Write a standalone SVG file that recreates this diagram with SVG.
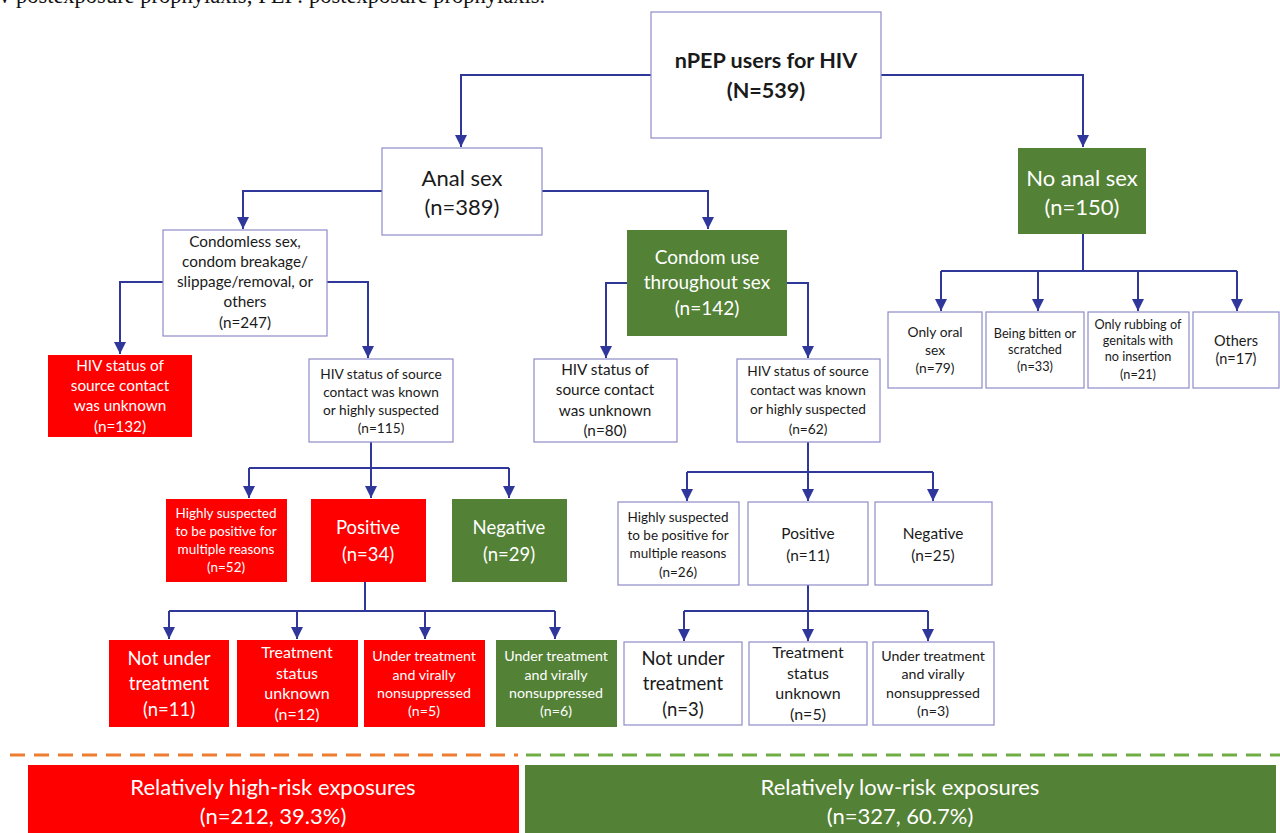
<svg xmlns="http://www.w3.org/2000/svg" width="1280" height="833" viewBox="0 0 1280 833">
<defs>
<marker id="arr" markerUnits="userSpaceOnUse" markerWidth="12" markerHeight="12" viewBox="0 0 12 12" refX="12" refY="6" orient="auto">
<path d="M0,0 L12,6 L0,12 Z" fill="#30379B"/>
</marker>
<style>
text{font-family:Lato,"Open Sans","Liberation Sans",sans-serif;text-anchor:middle}
.w{fill:#fff;stroke:#8E8CC8;stroke-width:1.2}
.r{fill:#FF0000}
.g{fill:#538135}
.tw{fill:#fff}
.tb{fill:#1a1a1a}
.c path{fill:none;stroke:#30379B;stroke-width:2}
.c path.a{marker-end:url(#arr)}
</style>
</defs>
<rect width="1280" height="833" fill="#fff"/>
<text x="-1" y="3" style="font-family:'Liberation Serif',serif;text-anchor:start;font-size:22.5px" fill="#111">v postexposure prophylaxis; PEP: postexposure prophylaxis.</text>

<g class="c" id="connectors">
<path class="a" d="M651,75 H461 V147"/>
<path class="a" d="M881,75 H1083 V147"/>
<path class="a" d="M382,191 H243 V229"/>
<path class="a" d="M542,191 H708 V229"/>
<path d="M1083,234 V271"/>
<path d="M941,271 H1237"/>
<path class="a" d="M941,271 V311"/>
<path class="a" d="M1038,271 V311"/>
<path class="a" d="M1138,271 V311"/>
<path class="a" d="M1237,271 V311"/>
<path class="a" d="M163,282 H120 V354"/>
<path class="a" d="M327,282 H368 V358"/>
<path class="a" d="M627,283 H606 V358"/>
<path class="a" d="M787,283 H808 V358"/>
<path d="M371,442 V468"/>
<path d="M249,468 H509"/>
<path class="a" d="M249,468 V498"/>
<path class="a" d="M371,468 V498"/>
<path class="a" d="M509,468 V498"/>
<path d="M365,582 V611"/>
<path d="M169,611 H555"/>
<path class="a" d="M169,611 V639"/>
<path class="a" d="M297,611 V639"/>
<path class="a" d="M425,611 V639"/>
<path class="a" d="M555,611 V639"/>
<path d="M808,442 V472"/>
<path d="M687,472 H933"/>
<path class="a" d="M687,472 V501"/>
<path class="a" d="M808,472 V501"/>
<path class="a" d="M933,472 V501"/>
<path d="M808,585 V611"/>
<path d="M684,611 H928"/>
<path class="a" d="M684,611 V641"/>
<path class="a" d="M808,611 V641"/>
<path class="a" d="M928,611 V641"/>
</g>

<g id="root">
<rect class="w" x="651" y="12" width="230" height="126"/>
<text class="tb" x="766" y="68" font-size="21.6" font-weight="bold">nPEP users for HIV</text>
<text class="tb" x="766" y="98" font-size="21.6" font-weight="bold">(N=539)</text>
</g>

<g id="anal">
<rect class="w" x="382" y="148" width="160" height="87"/>
<text class="tb" x="462" y="186" font-size="22">Anal sex</text>
<text class="tb" x="462" y="215" font-size="22">(n=389)</text>
</g>

<g id="noanal">
<rect class="g" x="1018" y="148" width="128" height="86"/>
<text class="tw" x="1082" y="186" font-size="22">No anal sex</text>
<text class="tw" x="1082" y="215" font-size="22">(n=150)</text>
</g>

<g id="oral">
<rect class="w" x="888" y="312" width="94" height="76"/>
<text class="tb" x="935" y="337" font-size="13.8">Only oral</text>
<text class="tb" x="935" y="355" font-size="13.8">sex</text>
<text class="tb" x="935" y="373" font-size="13.8">(n=79)</text>
</g>
<g id="bitten">
<rect class="w" x="986" y="312" width="98" height="76"/>
<text class="tb" x="1035" y="338" font-size="12.7">Being bitten or</text>
<text class="tb" x="1035" y="354" font-size="12.7">scratched</text>
<text class="tb" x="1035" y="371" font-size="12.7">(n=33)</text>
</g>
<g id="rubbing">
<rect class="w" x="1088" y="312" width="101" height="76"/>
<text class="tb" x="1138" y="329" font-size="12.7">Only rubbing of</text>
<text class="tb" x="1138" y="345" font-size="12.7">genitals with</text>
<text class="tb" x="1138" y="361" font-size="12.7">no insertion</text>
<text class="tb" x="1138" y="379" font-size="12.7">(n=21)</text>
</g>
<g id="others">
<rect class="w" x="1193" y="312" width="86" height="76"/>
<text class="tb" x="1236" y="346" font-size="14.5">Others</text>
<text class="tb" x="1236" y="364" font-size="14.5">(n=17)</text>
</g>

<g id="condomless">
<rect class="w" x="163" y="230" width="164" height="106"/>
<text class="tb" x="245" y="247" font-size="15.3">Condomless sex,</text>
<text class="tb" x="245" y="267" font-size="15.3">condom breakage/</text>
<text class="tb" x="245" y="287" font-size="15.3">slippage/removal, or</text>
<text class="tb" x="245" y="307" font-size="15.3">others</text>
<text class="tb" x="245" y="328" font-size="15.3">(n=247)</text>
</g>

<g id="unknown1">
<rect class="r" x="48" y="355" width="144" height="82"/>
<text class="tw" x="120" y="371" font-size="15.3">HIV status of</text>
<text class="tw" x="120" y="391" font-size="15.3">source contact</text>
<text class="tw" x="120" y="411" font-size="15.3">was unknown</text>
<text class="tw" x="120" y="432" font-size="15.3">(n=132)</text>
</g>

<g id="known1">
<rect class="w" x="309" y="359" width="144" height="83"/>
<text class="tb" x="381" y="379" font-size="13.7">HIV status of source</text>
<text class="tb" x="381" y="397" font-size="13.7">contact was known</text>
<text class="tb" x="381" y="415" font-size="13.7">or highly suspected</text>
<text class="tb" x="381" y="433" font-size="13.7">(n=115)</text>
</g>

<g id="condomuse">
<rect class="g" x="627" y="230" width="160" height="106"/>
<text class="tw" x="707" y="264" font-size="19">Condom use</text>
<text class="tw" x="707" y="289" font-size="19">throughout sex</text>
<text class="tw" x="707" y="315" font-size="19">(n=142)</text>
</g>

<g id="unknown2">
<rect class="w" x="534" y="359" width="143" height="83"/>
<text class="tb" x="605" y="375" font-size="15.3">HIV status of</text>
<text class="tb" x="605" y="395" font-size="15.3">source contact</text>
<text class="tb" x="605" y="416" font-size="15.3">was unknown</text>
<text class="tb" x="605" y="436" font-size="15.3">(n=80)</text>
</g>

<g id="known2">
<rect class="w" x="737" y="359" width="143" height="83"/>
<text class="tb" x="808" y="376" font-size="13.7">HIV status of source</text>
<text class="tb" x="808" y="395" font-size="13.7">contact was known</text>
<text class="tb" x="808" y="414" font-size="13.7">or highly suspected</text>
<text class="tb" x="808" y="434" font-size="13.7">(n=62)</text>
</g>

<g id="suspected1">
<rect class="r" x="166" y="499" width="121" height="83"/>
<text class="tw" x="226" y="518" font-size="13.5">Highly suspected</text>
<text class="tw" x="226" y="536" font-size="13.5">to be positive for</text>
<text class="tw" x="226" y="554" font-size="13.5">multiple reasons</text>
<text class="tw" x="226" y="572" font-size="13.5">(n=52)</text>
</g>
<g id="positive1">
<rect class="r" x="311" y="499" width="115" height="83"/>
<text class="tw" x="368" y="534" font-size="18.5">Positive</text>
<text class="tw" x="368" y="561" font-size="18.5">(n=34)</text>
</g>
<g id="negative1">
<rect class="g" x="452" y="499" width="115" height="83"/>
<text class="tw" x="509" y="534" font-size="18.5">Negative</text>
<text class="tw" x="509" y="561" font-size="18.5">(n=29)</text>
</g>

<g id="suspected2">
<rect class="w" x="618" y="502" width="121" height="83"/>
<text class="tb" x="678" y="522" font-size="13.5">Highly suspected</text>
<text class="tb" x="678" y="540" font-size="13.5">to be positive for</text>
<text class="tb" x="678" y="558" font-size="13.5">multiple reasons</text>
<text class="tb" x="678" y="577" font-size="13.5">(n=26)</text>
</g>
<g id="positive2">
<rect class="w" x="748" y="502" width="120" height="83"/>
<text class="tb" x="808" y="539" font-size="15.4">Positive</text>
<text class="tb" x="808" y="561" font-size="15.4">(n=11)</text>
</g>
<g id="negative2">
<rect class="w" x="875" y="502" width="117" height="83"/>
<text class="tb" x="933" y="539" font-size="15.4">Negative</text>
<text class="tb" x="933" y="561" font-size="15.4">(n=25)</text>
</g>

<g id="nottreat1">
<rect class="r" x="109" y="640" width="120" height="87"/>
<text class="tw" x="169" y="665" font-size="18.5">Not under</text>
<text class="tw" x="169" y="690" font-size="18.5">treatment</text>
<text class="tw" x="169" y="716" font-size="18.5">(n=11)</text>
</g>
<g id="statusunk1">
<rect class="r" x="237" y="640" width="121" height="87"/>
<text class="tw" x="297" y="658" font-size="16">Treatment</text>
<text class="tw" x="297" y="679" font-size="16">status</text>
<text class="tw" x="297" y="699" font-size="16">unknown</text>
<text class="tw" x="297" y="720" font-size="16">(n=12)</text>
</g>
<g id="nonsupp1">
<rect class="r" x="364" y="640" width="121" height="87"/>
<text class="tw" x="424" y="661" font-size="14.2">Under treatment</text>
<text class="tw" x="424" y="680" font-size="14.2">and virally</text>
<text class="tw" x="424" y="698" font-size="14.2">nonsuppressed</text>
<text class="tw" x="424" y="716" font-size="14.2">(n=5)</text>
</g>
<g id="nonsupp1g">
<rect class="g" x="496" y="640" width="121" height="87"/>
<text class="tw" x="556" y="661" font-size="14.2">Under treatment</text>
<text class="tw" x="556" y="680" font-size="14.2">and virally</text>
<text class="tw" x="556" y="698" font-size="14.2">nonsuppressed</text>
<text class="tw" x="556" y="716" font-size="14.2">(n=6)</text>
</g>

<g id="nottreat2">
<rect class="w" x="624" y="642" width="118" height="83"/>
<text class="tb" x="683" y="665" font-size="18.5">Not under</text>
<text class="tb" x="683" y="690" font-size="18.5">treatment</text>
<text class="tb" x="683" y="716" font-size="18.5">(n=3)</text>
</g>
<g id="statusunk2">
<rect class="w" x="749" y="642" width="118" height="83"/>
<text class="tb" x="808" y="658" font-size="16">Treatment</text>
<text class="tb" x="808" y="679" font-size="16">status</text>
<text class="tb" x="808" y="699" font-size="16">unknown</text>
<text class="tb" x="808" y="720" font-size="16">(n=5)</text>
</g>
<g id="nonsupp2">
<rect class="w" x="873" y="642" width="121" height="83"/>
<text class="tb" x="933" y="661" font-size="14.2">Under treatment</text>
<text class="tb" x="933" y="679" font-size="14.2">and virally</text>
<text class="tb" x="933" y="698" font-size="14.2">nonsuppressed</text>
<text class="tb" x="933" y="716" font-size="14.2">(n=3)</text>
</g>

<g id="divider">
<line x1="10" y1="755" x2="518" y2="755" stroke="#ED7D31" stroke-width="3" stroke-dasharray="15,9"/>
<line x1="526" y1="755" x2="1280" y2="755" stroke="#70AD47" stroke-width="3" stroke-dasharray="15,9"/>
</g>

<g id="highrisk">
<rect class="r" x="28" y="765" width="491" height="68"/>
<text class="tw" x="273" y="795" font-size="22">Relatively high-risk exposures</text>
<text class="tw" x="273" y="824" font-size="22">(n=212, 39.3%)</text>
</g>
<g id="lowrisk">
<rect class="g" x="525" y="765" width="751" height="68"/>
<text class="tw" x="900" y="795" font-size="22">Relatively low-risk exposures</text>
<text class="tw" x="900" y="824" font-size="22">(n=327, 60.7%)</text>
</g>
</svg>
